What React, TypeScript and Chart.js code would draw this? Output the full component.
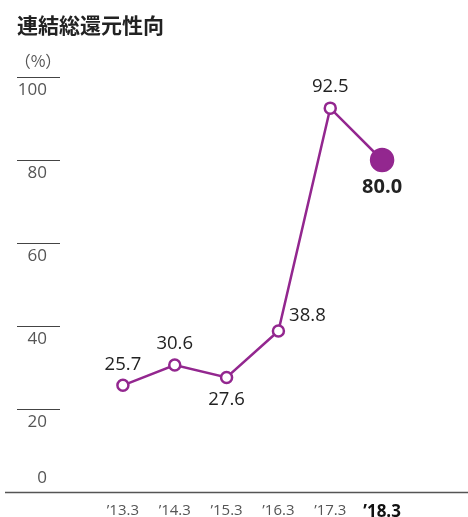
import React, { useEffect, useRef } from "react";
import { Chart, registerables } from "chart.js";

Chart.register(...registerables);

const categories = ["’13.3", "’14.3", "’15.3", "’16.3", "’17.3", "’18.3"];
const payoutRatio = [25.7, 30.6, 27.6, 38.8, 92.5, 80.0];
const yTicks = [0, 20, 40, 60, 80, 100];
const title = "連結総還元性向";
const unit = "（%）";

const PURPLE = "#93278f";
const FONT = "'Open Sans', 'Noto Sans', sans-serif";

// label placement per point: [dx, dy, bold]
const labelPlace: [number, number, boolean][] = [
  [0, -21, false],
  [0, -21, false],
  [0, 22, false],
  [29, -15, false],
  [0, -21, false],
  [0, 27, true],
];

export default function App() {
  const ref = useRef<HTMLCanvasElement | null>(null);

  useEffect(() => {
    document.body.style.margin = "0";
    const canvas = ref.current!;
    const decor = {
      id: "decor",
      beforeDatasetsDraw(chart: any) {
        const ctx = chart.ctx;
        const y = chart.scales.y;
        ctx.save();
        // title
        ctx.fillStyle = "#222";
        ctx.font = `bold 21px 'Noto Sans CJK JP', sans-serif`;
        ctx.textAlign = "left";
        ctx.textBaseline = "middle";
        ctx.fillText(title, 17, 25);
        // unit
        ctx.fillStyle = "#555";
        ctx.font = `16px 'Noto Sans CJK JP', sans-serif`;
        ctx.textAlign = "center";
        ctx.fillText(unit, 38, 61);
        // y ticks
        yTicks.forEach((v) => {
          const py = Math.round(y.getPixelForValue(v)) + 0.5;
          if (v > 0) {
            ctx.strokeStyle = "#444";
            ctx.lineWidth = 1;
            ctx.beginPath();
            ctx.moveTo(17, py);
            ctx.lineTo(60, py);
            ctx.stroke();
          }
          ctx.fillStyle = "#555";
          ctx.font = `17px ${FONT}`;
          ctx.textAlign = "right";
          ctx.textBaseline = "middle";
          ctx.fillText(String(v), 47, v > 0 ? py + 13 : py - 14);
        });
        // baseline
        const by = Math.round(y.getPixelForValue(0)) + 0.5;
        ctx.strokeStyle = "#555";
        ctx.lineWidth = 1.5;
        ctx.beginPath();
        ctx.moveTo(5, by);
        ctx.lineTo(468, by);
        ctx.stroke();
        ctx.restore();
      },
      afterDatasetsDraw(chart: any) {
        const ctx = chart.ctx;
        const meta = chart.getDatasetMeta(0);
        ctx.save();
        ctx.textAlign = "center";
        ctx.textBaseline = "middle";
        meta.data.forEach((pt: any, i: number) => {
          const [dx, dy, bold] = labelPlace[i];
          ctx.fillStyle = "#222";
          ctx.font = bold ? `bold 20px ${FONT}` : `18.5px ${FONT}`;
          ctx.fillText(payoutRatio[i].toFixed(1), pt.x + dx, pt.y + dy);
        });
        ctx.restore();
      },
    };

    const chart = new Chart(canvas, {
      type: "line",
      data: {
        labels: categories,
        datasets: [
          {
            data: payoutRatio,
            borderColor: PURPLE,
            borderWidth: 2.5,
            pointRadius: payoutRatio.map((_, i) => (i === payoutRatio.length - 1 ? 11 : 5.5)),
            pointBorderWidth: 2.5,
            pointBackgroundColor: payoutRatio.map((_, i) => (i === payoutRatio.length - 1 ? PURPLE : "#fff")),
            pointBorderColor: PURPLE,
            tension: 0,
          },
        ],
      },
      options: {
        animation: false,
        responsive: false,
        maintainAspectRatio: false,
        layout: { padding: { top: 77, left: 97, right: 60, bottom: 0 } },
        plugins: { legend: { display: false }, tooltip: { enabled: false } },
        scales: {
          x: {
            offset: true,
            grid: { display: false, drawTicks: false },
            border: { display: false },
            afterFit: (s: any) => {
              s.height = 25;
            },
            ticks: {
              padding: 10,
              color: (c: any) => (c.index === categories.length - 1 ? "#111" : "#555"),
              font: (c: any) =>
                c.index === categories.length - 1
                  ? { family: FONT, size: 17, weight: "bold" }
                  : { family: FONT, size: 15 },
            },
          },
          y: { display: false, min: 0, max: 100 },
        },
      },
      plugins: [decor],
    });
    return () => chart.destroy();
  }, []);

  return <canvas ref={ref} width={468} height={517} style={{ display: "block" }} />;
}
